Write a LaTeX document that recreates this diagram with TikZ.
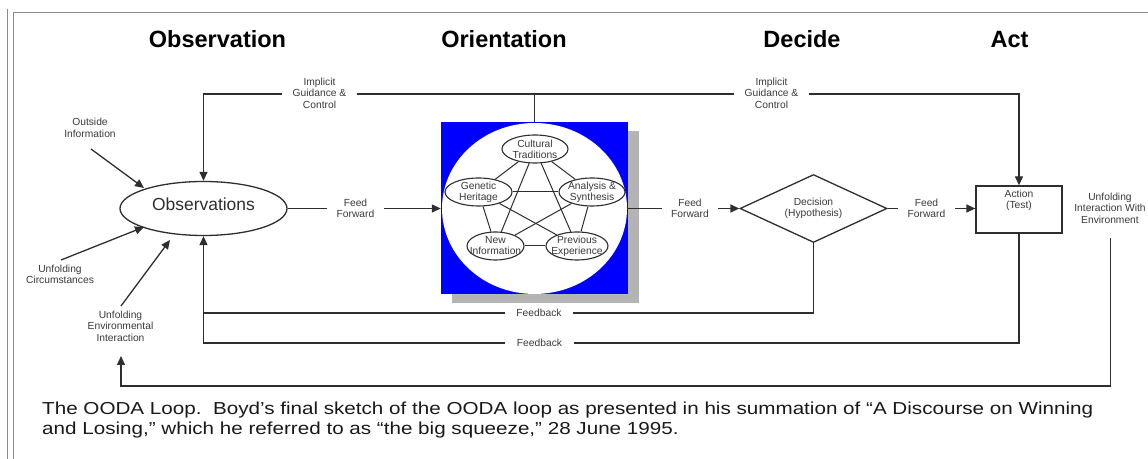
\documentclass[tikz,border=0pt]{standalone}
\usepackage{fontspec}
\setmainfont{Liberation Sans}
\usetikzlibrary{arrows.meta,shapes.geometric}

\definecolor{ink}{HTML}{2E2E2E}
\definecolor{labelgray}{HTML}{3A3A3A}
\definecolor{framegray}{HTML}{8A8A8A}
\definecolor{shadowgray}{HTML}{B4B4B4}
\definecolor{orientblue}{HTML}{0000FF}

\begin{document}
\begin{tikzpicture}[x=1bp,y=-1bp,
  line/.style={draw=ink, line width=1.3bp},
  arr/.style={line, -{Triangle[length=9bp,width=8bp]}},
  small/.style={font=\fontsize{10.3}{11.5}\selectfont, text=labelgray, align=center, inner sep=0},
  head/.style={font=\fontsize{23.6}{27}\selectfont\bfseries, anchor=base, inner sep=0},
  gap/.style={small, inner xsep=#1},
  trait/.style={ellipse, draw=ink, line width=1.1bp, fill=white, inner sep=0,
    minimum height=28bp, minimum width=#1},
  traittext/.style={small, font=\fontsize{10.3}{11}\selectfont},
]
\useasboundingbox (0,0) rectangle (1148,459);

% page frame
\draw[framegray, line width=1.3bp] (7.5,9) -- (7.5,459);
\draw[framegray, line width=1.3bp] (1148,12.5) -- (13.5,12.5) -- (13.5,459);

% phase headings
\node[head] (hobs) at (217.5,48) {Observation};
\node[head] (hori) at (504,48) {Orientation};
\node[head] (hdec) at (802,48) {Decide};
\node[head] (hact) at (1009.5,48) {Act};

% Observe
\node[ellipse, line, fill=white, minimum width=167bp, minimum height=54bp, inner sep=0] (obs) at (203.5,208.5) {};
\node[font=\fontsize{17.5}{20}\selectfont, text=ink, inner sep=0] (obstxt) at (203.5,204) {Observations};

% Orient
\node[fill=shadowgray, minimum width=187bp, minimum height=172bp, inner sep=0] (orientshadow) at (545,217.5) {};
\node[fill=orientblue, minimum width=187bp, minimum height=172bp, inner sep=0] (orient) at (534.5,208.5) {};
\node[ellipse, fill=white, minimum width=185bp, minimum height=171bp, inner sep=0] (orientdisc) at (534.5,208.5) {};

\node[trait=66bp] (ct) at (535,149) {};
\node[trait=67bp] (gh) at (478.5,192) {};
\node[trait=66bp] (as) at (592,192) {};
\node[trait=57bp] (ni) at (495.5,246) {};
\node[trait=62bp] (pe) at (577,246) {};
\node[traittext] (cttxt) at (ct) {Cultural\\Traditions};
\node[traittext] (ghtxt) at (gh) {Genetic\\Heritage};
\node[traittext] (astxt) at (as) {Analysis \&\\Synthesis};
\node[traittext] (nitxt) at (ni) {New\\Information};
\node[traittext] (petxt) at (pe) {Previous\\Experience};
\foreach \a/\b in {ct/gh, ct/as, ct/ni, ct/pe, gh/as, gh/ni, gh/pe, as/ni, as/pe, ni/pe}
  \draw[draw=ink, line width=1bp] (\a) -- (\b);

% Decide
\node[diamond, aspect=2.16, line, fill=white, minimum width=147bp, minimum height=68bp, inner sep=0, small] (dec) at (813.5,208.5) {Decision\\(Hypothesis)};

% Act
\node[draw=ink, line width=1.3bp, fill=white, minimum width=86bp, minimum height=47bp, inner sep=0,
  label={[small, name=acttxt, anchor=north, yshift=-4.5bp]north:{Action\\(Test)}}] (act) at (1019,209.5) {};

% feed-forward labels
\node[gap=9bp] (ff1) at (355.5,208.5) {Feed\\Forward};
\node[gap=9bp] (ff2) at (690,208.5) {Feed\\Forward};
\node[gap=9.5bp] (ff3) at (926.5,208.5) {Feed\\Forward};

\draw[line] (obs.east) -- (obs.east -| ff1.west);
\draw[arr] (ff1.east |- obs.east) -- (orient.west);
\draw[line] (orient.east) -- (orient.east -| ff2.west);
\draw[arr] (ff2.east |- orient.east) -- (dec.west);
\draw[line] (dec.east) -- (dec.east -| ff3.west);
\draw[arr] (ff3.east |- dec.east) -- (dec.east -| act.west);

% implicit guidance & control
\node[gap=10.5bp] (igc1) at (319.5,93) {Implicit\\Guidance \&\\Control};
\node[gap=10.5bp] (igc2) at (771.5,93) {Implicit\\Guidance \&\\Control};
\coordinate (igtop) at (534.5,94);
\draw[line] (orient.north) -- (igtop) -- (igtop -| igc1.east);
\draw[arr] (igtop -| igc1.west) -| (obs.north);
\draw[line] (igtop) -- (igtop -| igc2.west);
\draw[arr] (igtop -| igc2.east) -| (act.north);

% feedback loops
\node[gap=11.5bp] (fb1) at (539,313) {Feedback};
\node[gap=11.5bp] (fb2) at (539.5,343) {Feedback};
\draw[line] (dec.south) |- (fb1.east);
\draw[arr] (fb1.west) -| (obs.south);
\draw[line] (act.south) |- (fb2.east);
\draw[line] (fb2.west) -| (obs.south |- fb1.west);

% outside inputs
\node[small] (oi) at (90,128) {Outside\\Information};
\node[small] (uc) at (60,274.5) {Unfolding\\Circumstances};
\node[small] (uei) at (120.5,326) {Unfolding\\Environmental\\Interaction};
\node[small] (uie) at (1110,208) {Unfolding\\Interaction With\\Environment};

\coordinate (oiS) at (91,149);   \coordinate (oiE) at (144,188);
\coordinate (ucS) at (61,260);   \coordinate (ucE) at (144,227);
\coordinate (ueiS) at (121,306); \coordinate (ueiE) at (170,240);
\draw[arr] (oiS) -- (oiE);
\draw[arr] (ucS) -- (ucE);
\draw[arr] (ueiS) -- (ueiE);

% interaction with the environment returns to observation
\coordinate (uieS) at (1110.5,238);
\coordinate (loopBL) at (121,386);
\coordinate (ueiIn) at (121,356);
\draw[arr] (uieS) |- (loopBL) -- (ueiIn);

% caption
\node[anchor=base west, inner sep=0, font=\fontsize{17.4}{20}\selectfont, text=black!90] (cap1) at (42,415)
  {\scalebox{1.19}[1]{The OODA Loop.\ \ Boyd’s final sketch of the OODA loop as presented in his summation of “A Discourse on Winning}};
\node[anchor=base west, inner sep=0, font=\fontsize{17.4}{20}\selectfont, text=black!90] (cap2) at (42,434.5)
  {\scalebox{1.19}[1]{and Losing,” which he referred to as “the big squeeze,” 28 June 1995.}};
\end{tikzpicture}
\end{document}
